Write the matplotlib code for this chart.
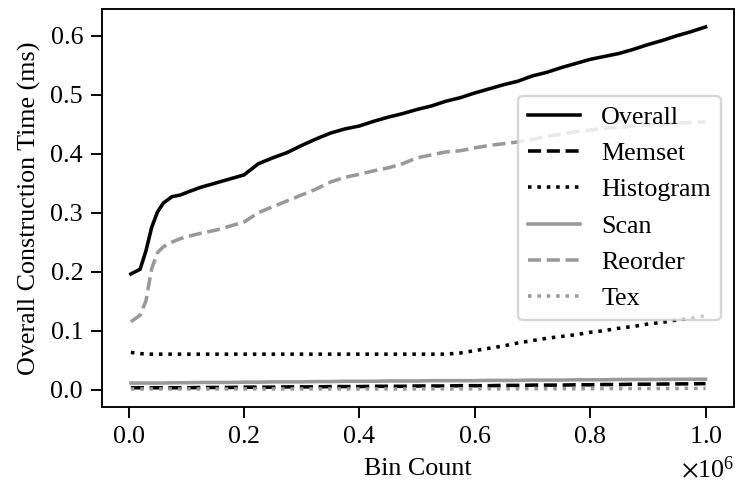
import matplotlib
matplotlib.use('Agg')
import matplotlib.pyplot as plt
from matplotlib.ticker import ScalarFormatter

plt.rcParams['font.family'] = ['Liberation Serif', 'DejaVu Serif']
plt.rcParams['mathtext.fontset'] = 'stix'
plt.rcParams['font.size'] = 11
plt.rcParams['xtick.major.size'] = 4.6
plt.rcParams['ytick.major.size'] = 4.6

# bin counts
bins = [4000, 20000, 30000, 40000, 50000, 60000, 75000, 90000, 100000, 125000,
        150000, 175000, 200000, 225000, 250000, 275000, 300000, 325000, 350000, 375000,
        400000, 425000, 450000, 475000, 500000, 525000, 550000, 575000, 600000, 625000,
        650000, 675000, 700000, 725000, 750000, 775000, 800000, 825000, 850000, 875000,
        900000, 925000, 950000, 975000, 1000000]

overall = [0.196, 0.204, 0.235, 0.275, 0.301, 0.316, 0.327, 0.330, 0.334, 0.343,
           0.350, 0.357, 0.364, 0.383, 0.393, 0.402, 0.414, 0.425, 0.435, 0.442,
           0.447, 0.455, 0.462, 0.468, 0.475, 0.481, 0.489, 0.495, 0.503, 0.510,
           0.517, 0.523, 0.532, 0.538, 0.546, 0.553, 0.560, 0.565, 0.570, 0.577,
           0.585, 0.592, 0.600, 0.607, 0.615]

memset = [0.003, 0.003, 0.003, 0.003, 0.003, 0.003, 0.003, 0.003, 0.003, 0.0035,
          0.0035, 0.0035, 0.004, 0.004, 0.004, 0.0045, 0.0045, 0.0045, 0.005, 0.005,
          0.005, 0.0055, 0.0055, 0.0055, 0.006, 0.006, 0.006, 0.0065, 0.0065, 0.0065,
          0.007, 0.007, 0.0075, 0.0075, 0.0075, 0.008, 0.008, 0.0085, 0.0085, 0.009,
          0.009, 0.0093, 0.0095, 0.0097, 0.010]

histogram = [0.063, 0.061, 0.060, 0.060, 0.060, 0.060, 0.060, 0.060, 0.060, 0.060,
             0.060, 0.060, 0.060, 0.060, 0.060, 0.060, 0.060, 0.060, 0.060, 0.060,
             0.060, 0.060, 0.060, 0.060, 0.060, 0.060, 0.060, 0.062, 0.066, 0.070,
             0.074, 0.079, 0.083, 0.087, 0.090, 0.093, 0.097, 0.100, 0.104, 0.107,
             0.111, 0.114, 0.118, 0.121, 0.125]

scan = [0.011, 0.011, 0.011, 0.011, 0.011, 0.011, 0.0115, 0.0115, 0.0115, 0.012,
        0.012, 0.012, 0.0125, 0.0125, 0.013, 0.013, 0.013, 0.0135, 0.0135, 0.014,
        0.014, 0.014, 0.0145, 0.0145, 0.0145, 0.015, 0.015, 0.015, 0.015, 0.0155,
        0.0155, 0.0155, 0.016, 0.016, 0.016, 0.0165, 0.0165, 0.0165, 0.017, 0.017,
        0.017, 0.0172, 0.0174, 0.0175, 0.0176]

reorder = [0.115, 0.126, 0.150, 0.205, 0.232, 0.242, 0.250, 0.256, 0.259, 0.265,
           0.270, 0.277, 0.284, 0.300, 0.310, 0.320, 0.330, 0.340, 0.352, 0.360,
           0.365, 0.371, 0.376, 0.383, 0.393, 0.398, 0.403, 0.405, 0.410, 0.414,
           0.417, 0.420, 0.424, 0.430, 0.433, 0.437, 0.440, 0.443, 0.445, 0.447,
           0.449, 0.450, 0.452, 0.453, 0.454]

tex = [0.001, 0.001, 0.001, 0.001, 0.001, 0.001, 0.001, 0.001, 0.001, 0.001,
       0.001, 0.001, 0.001, 0.001, 0.001, 0.001, 0.001, 0.001, 0.001, 0.001,
       0.001, 0.001, 0.001, 0.001, 0.0012, 0.0012, 0.0012, 0.0012, 0.0013, 0.0013,
       0.0013, 0.0014, 0.0014, 0.0014, 0.0015, 0.0015, 0.0015, 0.0016, 0.0016, 0.0017,
       0.0017, 0.0018, 0.0018, 0.0019, 0.002]

gray = '0.6'

fig = plt.figure(figsize=(735/170, 491/170), dpi=170)
ax = fig.add_axes([0.139, 0.171, 0.86, 0.811])

ax.plot(bins, overall, color='black', linestyle='-', label='Overall')
ax.plot(bins, memset, color='black', linestyle='--', label='Memset')
ax.plot(bins, histogram, color='black', linestyle=':', label='Histogram')
ax.plot(bins, scan, color=gray, linestyle='-', label='Scan')
ax.plot(bins, reorder, color=gray, linestyle='--', label='Reorder')
ax.plot(bins, tex, color=gray, linestyle=':', label='Tex')

fmt = ScalarFormatter(useMathText=True)
ax.xaxis.set_major_formatter(fmt)

ax.set_xlabel('Bin Count')
ax.set_ylabel('Overall Construction Time (ms)')
ax.legend(loc='center right')

fig.savefig('out.png', dpi=170)
